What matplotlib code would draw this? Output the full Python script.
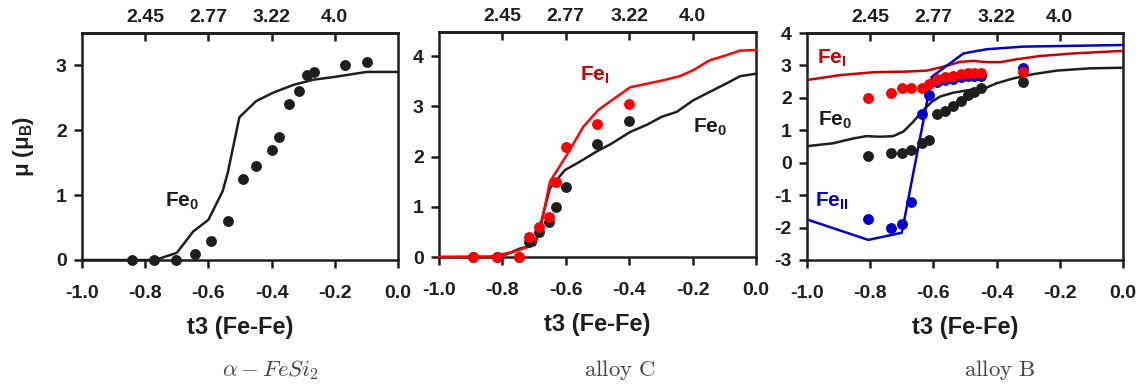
import matplotlib
matplotlib.use("Agg")
import matplotlib.pyplot as plt

plt.rcParams['font.family'] = ['Liberation Sans', 'DejaVu Sans']
plt.rcParams['font.weight'] = 'bold'

# ---- data ----
xticks = [-1.0, -0.8, -0.6, -0.4, -0.2, 0.0]
xtick_labels = ['-1.0', '-0.8', '-0.6', '-0.4', '-0.2', '0.0']
top_pos = [-0.8, -0.6, -0.4, -0.2]
top_labels = ['2.45', '2.77', '3.22', '4.0']

# alpha-FeSi2
a_pts_x = [-0.841, -0.771, -0.704, -0.642, -0.592, -0.539, -0.491, -0.449, -0.398,
           -0.376, -0.344, -0.313, -0.289, -0.265, -0.168, -0.099]
a_pts_y = [0.0, 0.0, 0.0, 0.1, 0.3, 0.6, 1.25, 1.45, 1.7, 1.9, 2.4, 2.6, 2.85,
           2.9, 3.0, 3.05]
a_fe0_x = [-1.0, -0.769, -0.70, -0.648, -0.60, -0.555, -0.539, -0.502, -0.449,
           -0.395, -0.331, -0.268, -0.205, -0.099, 0.0]
a_fe0_y = [0.0, 0.0, 0.11, 0.44, 0.62, 1.06, 1.34, 2.2, 2.45, 2.58, 2.70, 2.78,
           2.82, 2.90, 2.90]

# alloy C
c_pts_x = [-0.894, -0.818, -0.748, -0.716, -0.685, -0.654, -0.632, -0.599, -0.502, -0.401]
c_fe0_pts = [0.0, 0.0, 0.0, 0.3, 0.5, 0.7, 1.0, 1.4, 2.25, 2.7]
c_fei_pts = [0.0, 0.0, 0.0, 0.4, 0.6, 0.8, 1.5, 2.2, 2.65, 3.05]
c_fei_x = [-1.0, -0.839, -0.766, -0.702, -0.681, -0.650, -0.597, -0.545, -0.497,
           -0.397, -0.292, -0.240, -0.198, -0.145, -0.092, -0.050, 0.0]
c_fei_y = [0.0, 0.01, 0.10, 0.24, 0.54, 1.5, 2.03, 2.59, 2.93, 3.38, 3.52, 3.60,
           3.72, 3.92, 4.02, 4.11, 4.12]
c_fe0_x = [-1.0, -0.808, -0.744, -0.697, -0.676, -0.650, -0.603, -0.555, -0.503,
           -0.455, -0.397, -0.345, -0.298, -0.250, -0.198, -0.145, -0.092, -0.050, 0.0]
c_fe0_y = [0.0, 0.0, 0.17, 0.24, 0.74, 1.37, 1.73, 1.90, 2.10, 2.26, 2.49, 2.63,
           2.79, 2.89, 3.12, 3.29, 3.46, 3.60, 3.65]

# alloy B
b_pts_x = [-0.808, -0.734, -0.700, -0.671, -0.637, -0.614, -0.588, -0.563, -0.537,
           -0.513, -0.492, -0.471, -0.450, -0.317]
b_fe0_pts = [0.2, 0.3, 0.3, 0.4, 0.6, 0.7, 1.5, 1.6, 1.75, 1.91, 2.09, 2.19, 2.29, 2.5]
b_fei_pts = [2.0, 2.15, 2.3, 2.3, 2.3, 2.43, 2.57, 2.63, 2.68, 2.74, 2.78, 2.78, 2.78, 2.8]
b_feii_pts = [-1.75, -2.0, -1.9, -1.2, 1.5, 2.1, 2.5, 2.55, 2.58, 2.64, 2.68, 2.68, 2.68, 2.91]
b_fe0_x = [-1.0, -0.917, -0.853, -0.811, -0.769, -0.727, -0.695, -0.664, -0.637,
           -0.605, -0.579, -0.537, -0.474, -0.431, -0.400, -0.347, -0.284, -0.210,
           -0.104, 0.0]
b_fe0_y = [0.51, 0.60, 0.75, 0.82, 0.80, 0.82, 0.96, 1.26, 1.57, 1.88, 2.04, 2.16,
           2.26, 2.32, 2.45, 2.60, 2.73, 2.84, 2.91, 2.93]
b_fei_x = [-1.0, -0.896, -0.790, -0.685, -0.621, -0.569, -0.516, -0.474, -0.431,
           -0.389, -0.336, -0.263, -0.157, 0.0]
b_fei_y = [2.55, 2.70, 2.79, 2.81, 2.84, 2.96, 3.11, 3.14, 3.10, 3.10, 3.19, 3.29,
           3.37, 3.45]
b_feii_x = [-1.0, -0.806, -0.700, -0.605, -0.505, -0.431, -0.316, 0.0]
b_feii_y = [-1.75, -2.38, -2.16, 2.65, 3.37, 3.50, 3.58, 3.63]

# ---- styling ----
K = '#1e1e1e'
RED = '#ff0000'
DRED = '#c40000'
BLUE = '#0000cc'
LW = 1.8
MS = 6.8
SPW = 1.8
TICK_FS = 14

fig = plt.figure(figsize=(11.41, 3.86), dpi=100)
ax1 = fig.add_axes([82 / 1141, 1 - 260 / 386, 316 / 1141, 227 / 386])
ax2 = fig.add_axes([439 / 1141, 1 - 257 / 386, 317 / 1141, 225 / 386])
ax3 = fig.add_axes([807 / 1141, 1 - 260 / 386, 316 / 1141, 227 / 386])


def style(ax, ylim, yticks):
    ax.set_xlim(-1.0, 0.0)
    ax.set_ylim(*ylim)
    ax.set_xticks(xticks, xtick_labels)
    ax.set_yticks(yticks, [f'{t:g}' for t in yticks])
    for s in ax.spines.values():
        s.set_linewidth(SPW)
        s.set_color(K)
    ax.tick_params(axis='x', direction='out', length=6, width=SPW, pad=12,
                   labelsize=TICK_FS, colors=K)
    ax.tick_params(axis='y', direction='out', length=6, width=SPW, pad=5,
                   labelsize=TICK_FS, colors=K)
    for lab in ax.get_xticklabels() + ax.get_yticklabels():
        lab.set_fontweight('bold')
    top = ax.secondary_xaxis('top')
    top.set_xticks(top_pos, top_labels)
    top.tick_params(direction='in', length=6, width=SPW, pad=5, labelsize=TICK_FS,
                    colors=K)
    for lab in top.get_xticklabels():
        lab.set_fontweight('bold')
    top.spines['top'].set_linewidth(SPW)
    ax.set_xlabel('t3 (Fe-Fe)', fontsize=17, fontweight='bold', labelpad=10, color=K)


# alpha-FeSi2
style(ax1, (0, 3.5), [0, 1, 2, 3])
ax1.plot(a_fe0_x, a_fe0_y, color=K, lw=LW, clip_on=False, zorder=3)
ax1.plot(a_pts_x, a_pts_y, 'o', color=K, ms=MS, clip_on=False, zorder=4)
ax1.text(-0.737, 0.9, 'Fe$_\\mathregular{0}$', fontsize=15, fontweight='bold',
         color=K, va='center')
ax1.set_ylabel('μ (μ$_\\mathregular{B}$)', fontsize=16, fontweight='bold',
               color=K, labelpad=14)

# alloy C
style(ax2, (0, 4.48), [0, 1, 2, 3, 4])
ax2.plot(c_fe0_x, c_fe0_y, color=K, lw=LW, clip_on=False, zorder=3)
ax2.plot(c_fei_x, c_fei_y, color=RED, lw=LW, clip_on=False, zorder=3)
ax2.plot(c_pts_x, c_fe0_pts, 'o', color=K, ms=MS, clip_on=False, zorder=4)
ax2.plot(c_pts_x, c_fei_pts, 'o', color=RED, ms=MS, clip_on=False, zorder=5)
ax2.text(-0.555, 3.62, 'Fe$_\\mathregular{I}$', fontsize=15, fontweight='bold',
         color=DRED, va='center')
ax2.text(-0.198, 2.59, 'Fe$_\\mathregular{0}$', fontsize=15, fontweight='bold',
         color=K, va='center')

# alloy B
style(ax3, (-3, 4), [-3, -2, -1, 0, 1, 2, 3, 4])
ax3.plot(b_fe0_x, b_fe0_y, color=K, lw=LW, zorder=3)
ax3.plot(b_fei_x, b_fei_y, color=DRED, lw=LW, zorder=3)
ax3.plot(b_feii_x, b_feii_y, color=BLUE, lw=LW, zorder=3)
ax3.plot(b_pts_x, b_fe0_pts, 'o', color=K, ms=MS, zorder=4)
ax3.plot(b_pts_x, b_feii_pts, 'o', color=BLUE, ms=MS, zorder=4)
ax3.plot(b_pts_x, b_fei_pts, 'o', color=RED, ms=MS, zorder=5)
ax3.text(-0.968, 3.22, 'Fe$_\\mathregular{I}$', fontsize=15, fontweight='bold',
         color=DRED, va='center')
ax3.text(-0.965, 1.32, 'Fe$_\\mathregular{0}$', fontsize=15, fontweight='bold',
         color=K, va='center')
ax3.text(-0.975, -1.18, 'Fe$_\\mathregular{II}$', fontsize=15, fontweight='bold',
         color=BLUE, va='center')

# captions under each panel
cap_kw = dict(fontsize=16.5, color='#444444', ha='center', va='center',
              math_fontfamily='cm', fontweight='normal')
fig.text(270 / 1141, 1 - 370 / 386, r'$\alpha - FeSi_2$', **cap_kw)
fig.text(620 / 1141, 1 - 370 / 386, r'$\mathrm{alloy\ C}$', **cap_kw)
fig.text(1000 / 1141, 1 - 370 / 386, r'$\mathrm{alloy\ B}$', **cap_kw)

fig.savefig('out.png', dpi=100)
